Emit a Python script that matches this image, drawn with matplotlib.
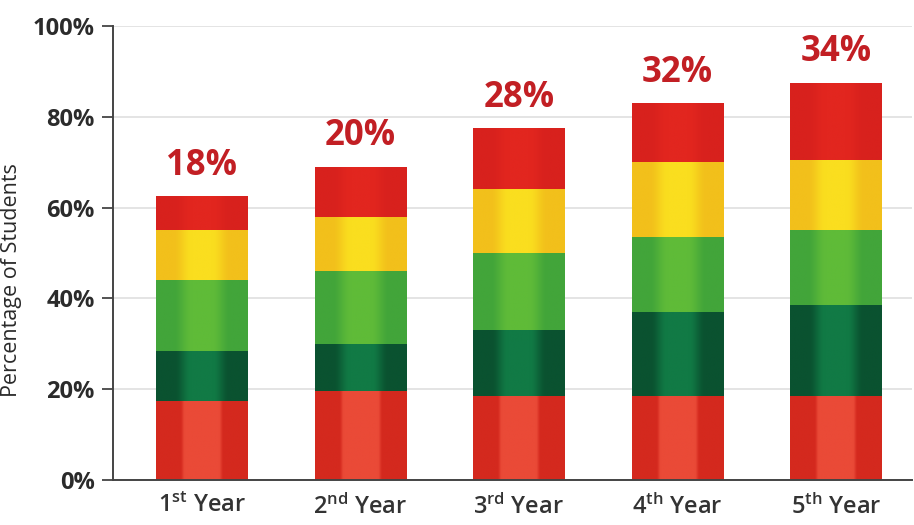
import numpy as np
import matplotlib
matplotlib.use("Agg")
import matplotlib.pyplot as plt
from matplotlib.colors import to_rgb

plt.rcParams['font.family'] = ['Open Sans', 'DejaVu Sans']
plt.rcParams['mathtext.fontset'] = 'custom'
plt.rcParams['mathtext.rm'] = 'Open Sans:semibold'
plt.rcParams['mathtext.it'] = 'Open Sans:semibold'
plt.rcParams['mathtext.bf'] = 'Open Sans:bold'

# Data: share of students per year, stacked bottom to top
years = ["1$^{\\mathrm{st}}$ Year", "2$^{\\mathrm{nd}}$ Year", "3$^{\\mathrm{rd}}$ Year",
         "4$^{\\mathrm{th}}$ Year", "5$^{\\mathrm{th}}$ Year"]
red_low = [17.5, 19.5, 18.5, 18.5, 18.5]
dark_green = [11.0, 10.5, 14.5, 18.5, 20.0]
green = [15.5, 16.0, 17.0, 16.5, 16.5]
yellow = [11.0, 12.0, 14.0, 16.5, 15.5]
red_top = [7.5, 11.0, 13.5, 13.0, 17.0]
top_labels = [18, 20, 28, 32, 34]
y_ticks = [0, 20, 40, 60, 80, 100]

# (values, edge colour, centre colour, sharpness) for each stacked layer
layers = [
    (red_low, "#d4291e", "#ea4a37", 0.10),
    (dark_green, "#0a5230", "#117a45", 0.35),
    (green, "#42a53a", "#5fbb38", 0.40),
    (yellow, "#f2c01b", "#fade1f", 0.40),
    (red_top, "#d8211d", "#e2261f", 0.40),
]

fig = plt.figure(figsize=(9.14, 5.25), dpi=100)
ax = fig.add_axes([0.1236, 0.0857, 0.8742, 0.8648])

x = np.arange(len(years))
width = 0.575
bottom = np.zeros(len(years))

u = np.linspace(0, 1, 256)
t = 1 - np.abs(2 * u - 1)

for values, edge_c, centre_c, soft in layers:
    bars = ax.bar(x, values, width, bottom=bottom, color=centre_c, linewidth=0, zorder=2)
    s = np.clip((t - (0.58 - soft / 2)) / soft, 0, 1)
    w = s * s * (3 - 2 * s)
    e = np.array(to_rgb(edge_c))
    c = np.array(to_rgb(centre_c))
    grad = (e[None, :] * (1 - w[:, None]) + c[None, :] * w[:, None])[None, :, :]
    for patch in bars:
        bx, by = patch.get_x(), patch.get_y()
        bw, bh = patch.get_width(), patch.get_height()
        im = ax.imshow(grad, extent=(bx, bx + bw, by, by + bh), aspect='auto',
                       interpolation='bilinear', zorder=3)
        im.set_clip_path(patch)
    bottom = bottom + np.array(values)

for xi, total, lab in zip(x, bottom, top_labels):
    ax.annotate(f"{lab}%", (xi, total), xytext=(0, 9), textcoords="offset points",
                ha="center", va="bottom", fontsize=25, fontweight="bold",
                color="#c21f24", zorder=5)

ax.set_xlim(-0.56, 4.48)
ax.set_ylim(0, 100)
ax.set_yticks(y_ticks)
ax.set_yticklabels([f"{v}%" for v in y_ticks], fontsize=17, fontweight="bold", color="#2b2b2b")
ax.set_xticks(x)
ax.set_xticklabels(years, fontsize=17, fontweight="semibold", color="#333333")
ax.tick_params(axis="x", length=0, pad=10)
ax.tick_params(axis="y", length=8, width=1.3, color="#444444", pad=5)

ax.grid(axis="y", color="#dcdcdc", linewidth=1.1, zorder=0)
ax.set_axisbelow(True)
for side in ["top", "right"]:
    ax.spines[side].set_visible(False)
for side in ["left", "bottom"]:
    ax.spines[side].set_color("#444444")
    ax.spines[side].set_linewidth(1.4)
    ax.spines[side].set_zorder(4)

ax.set_ylabel("Percentage of Students", fontsize=15.5, color="#2a2a2a")
ax.yaxis.set_label_coords(-0.114, 0.44)

fig.savefig("out.png", dpi=100)
